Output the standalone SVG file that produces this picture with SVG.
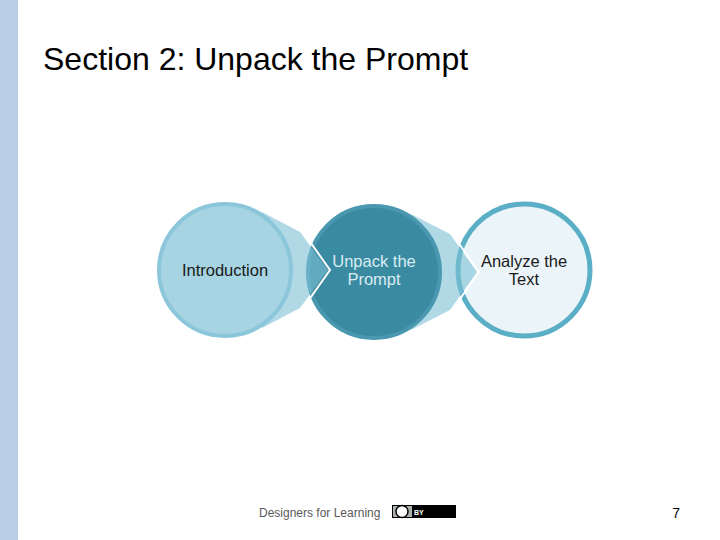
<svg xmlns="http://www.w3.org/2000/svg" width="720" height="540" viewBox="0 0 720 540">
<style>
.t{font-family:"Liberation Sans",Arial,sans-serif}
.lbl{font-size:16.5px;text-anchor:middle}
.chev{fill:#7cc0d4;opacity:0.6}
</style>
<rect width="720" height="540" fill="#fff"/>
<rect x="0" y="0" width="18" height="540" fill="#b9cde5"/>
<text class="t" x="43" y="70" font-size="32" fill="#000">Section 2: Unpack the Prompt</text>
<g id="node-analyze">
<circle cx="524" cy="270" r="66" fill="#ebf5f9" stroke="#5aaec6" stroke-width="5"/>
</g>
<g id="connector-2">
<path class="chev" d="M411,214 L450,234 L477,272 L450,310 L411,330 Z"/>
<path d="M455,238 L479,272 L455,306" fill="none" stroke="#fff" stroke-width="2"/>
</g>
<g id="node-unpack">
<circle cx="374" cy="272" r="66" fill="#3a8aa1" stroke="#4a98b0" stroke-width="4"/>
</g>
<g id="connector-1">
<path class="chev" d="M262,212 L300,232 L328,270 L300,308 L262,328 Z"/>
<path d="M306,236 L330,270 L306,304" fill="none" stroke="#fff" stroke-width="2"/>
</g>
<g id="node-intro">
<circle cx="225" cy="270" r="66" fill="#a6d4e3" stroke="#8cc6da" stroke-width="4"/>
</g>
<g id="labels">
<text class="t lbl" x="225" y="276" fill="#1a1a1a">Introduction</text>
<text class="t lbl" x="374" y="267" fill="#d8ecf2">Unpack the</text>
<text class="t lbl" x="374" y="285" fill="#d8ecf2">Prompt</text>
<text class="t lbl" x="524" y="267" fill="#1a1a1a">Analyze the</text>
<text class="t lbl" x="524" y="285" fill="#1a1a1a">Text</text>
</g>
<text class="t" x="259" y="517" font-size="12" fill="#595959">Designers for Learning</text>
<g id="cc-badge">
<rect x="392" y="505" width="64" height="13" fill="#000"/>
<rect x="393" y="506" width="62" height="11" fill="#aab2ab"/>
<rect x="412" y="506" width="43" height="11" fill="#000"/>
<circle cx="402" cy="511.5" r="6" fill="#fff" stroke="#000" stroke-width="1.5"/>
<text class="t" x="414" y="515" font-size="7" font-weight="bold" fill="#fff">BY</text>
</g>
<text class="t" x="680" y="518" font-size="14" text-anchor="end" fill="#000">7</text>
</svg>
